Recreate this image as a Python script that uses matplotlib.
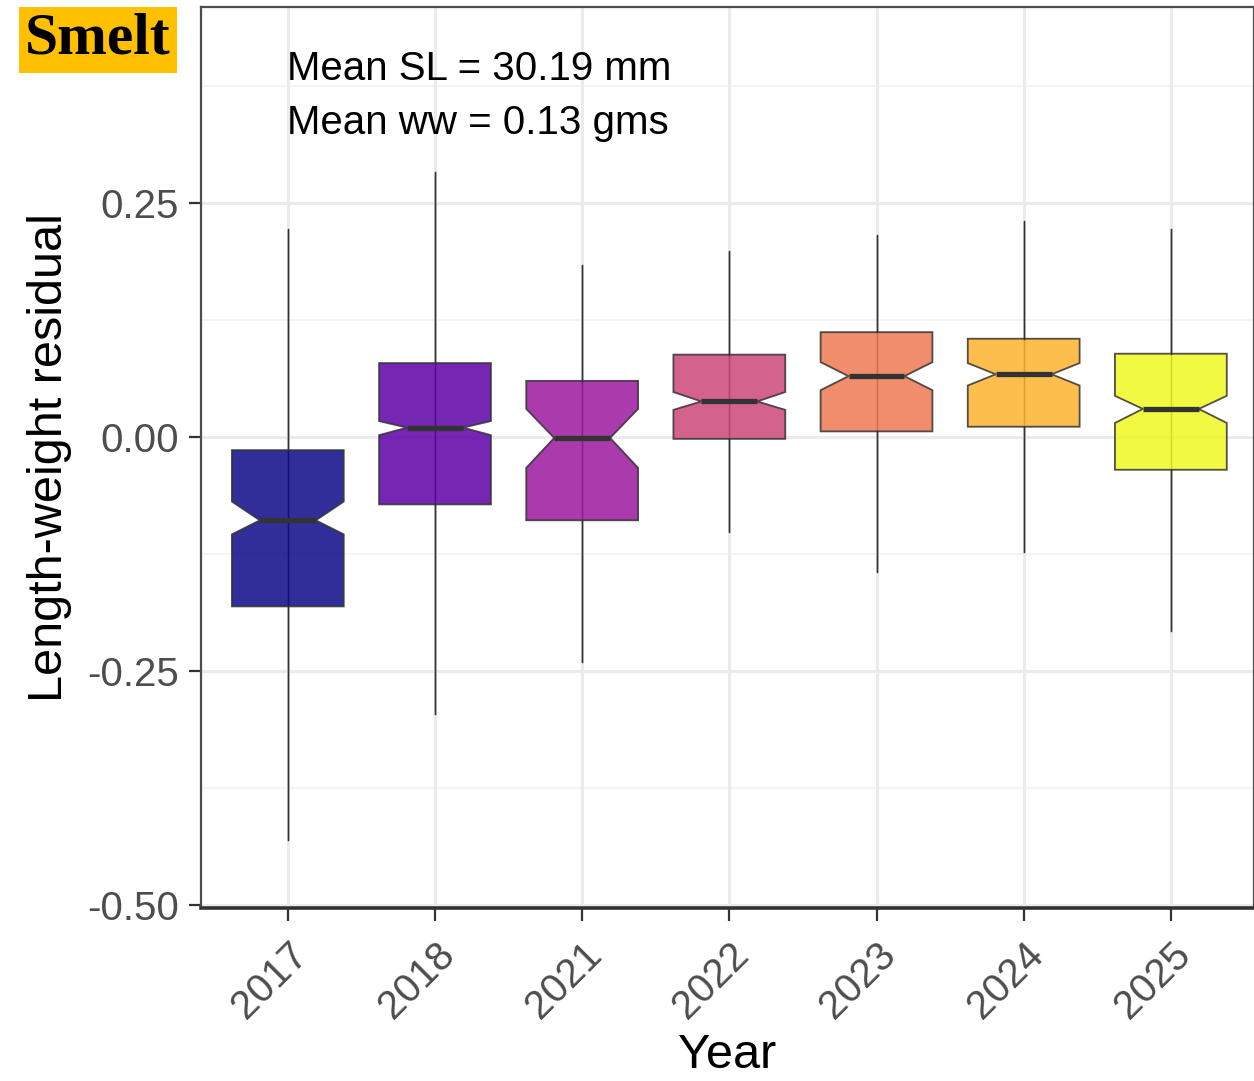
import numpy as np
import matplotlib
matplotlib.use("Agg")
import matplotlib.pyplot as plt

plt.rcParams['font.family'] = ['Liberation Sans', 'DejaVu Sans']

# boxplot summaries per year (length-weight residuals)
years = ["2017", "2018", "2021", "2022", "2023", "2024", "2025"]
whisk_lo = [-0.431, -0.296, -0.240, -0.101, -0.144, -0.123, -0.207]
q1 = [-0.181, -0.072, -0.089, -0.002, 0.006, 0.011, -0.035]
ci_lo = [-0.104, 0.002, -0.033, 0.029, 0.050, 0.055, 0.015]
medians = [-0.089, 0.010, -0.001, 0.038, 0.065, 0.067, 0.030]
ci_hi = [-0.069, 0.017, 0.030, 0.048, 0.080, 0.079, 0.044]
q3 = [-0.014, 0.079, 0.060, 0.088, 0.112, 0.105, 0.089]
whisk_hi = [0.222, 0.283, 0.184, 0.199, 0.216, 0.231, 0.222]

fills = ["#0D0887", "#5D01A6", "#9C179E", "#CC4678", "#ED7953", "#FDB32F", "#F0F921"]

mean_sl = 30.19
mean_ww = 0.13

stats = []
for i in range(len(years)):
    stats.append(dict(med=medians[i], q1=q1[i], q3=q3[i],
                      whislo=whisk_lo[i], whishi=whisk_hi[i],
                      cilo=ci_lo[i], cihi=ci_hi[i], fliers=[], label=years[i]))

fig = plt.figure(figsize=(12.54, 10.81), dpi=100)
ax = fig.add_axes([201/1254, 1 - 908/1081, 1 - 201/1254, (908 - 7)/1081])

pos = np.arange(len(years))

# grid
ax.set_axisbelow(True)
for y in [-0.375, -0.125, 0.125, 0.375]:
    ax.axhline(y, color="#F2F2F2", lw=1.2, zorder=0)
for y in [-0.5, -0.25, 0.0, 0.25]:
    ax.axhline(y, color="#EBEBEB", lw=2.2, zorder=0)
for x in pos:
    ax.axvline(x, color="#EBEBEB", lw=2.2, zorder=0)

# whisker line running through the box
ax.vlines(pos, whisk_lo, whisk_hi, color="#333333", lw=1.0, zorder=1)

bp = ax.bxp(stats, positions=pos, widths=0.76, shownotches=True, patch_artist=True,
            showcaps=False, showfliers=False,
            boxprops=dict(edgecolor="#333333", linewidth=1.3),
            whiskerprops=dict(color="#333333", linewidth=1.0),
            medianprops=dict(color="#333333", linewidth=3.8, solid_capstyle="butt"),
            zorder=2)
for patch, c in zip(bp['boxes'], fills):
    patch.set_facecolor(c)
    patch.set_alpha(0.85)
    patch.set_edgecolor("#333333")

ax.set_xlim(-0.59, 6.565)
ax.set_ylim(-0.5032, 0.4594)

ax.set_yticks([-0.5, -0.25, 0.0, 0.25])
ax.set_yticklabels(["-0.50", "-0.25", "0.00", "0.25"])
ax.set_xticks(pos)
ax.set_xticklabels(years, rotation=45, ha="right", rotation_mode="anchor")

ax.tick_params(axis="both", colors="#333333", labelcolor="#4D4D4D",
               labelsize=29, length=9, width=1.6)
ax.tick_params(axis="y", pad=7)
ax.tick_params(axis="x", pad=11)

for s in ["top", "left", "right"]:
    ax.spines[s].set_color("#4D4D4D")
    ax.spines[s].set_linewidth(1.6)
ax.spines["bottom"].set_color("#333333")
ax.spines["bottom"].set_linewidth(2.6)

ax.set_ylabel("Length-weight residual", fontsize=35, labelpad=11)
ax.set_xlabel("Year", fontsize=35, labelpad=5)

ax.text(-0.005, 0.393, "Mean SL = %.2f mm" % mean_sl, fontsize=29,
        ha="left", va="center", color="black")
ax.text(-0.005, 0.335, "Mean ww = %.2f gms" % mean_ww, fontsize=29,
        ha="left", va="center", color="black")

fig.text(25/1254, 1 - 40/1081, "Smelt", fontsize=43, fontweight="bold",
         family="Liberation Serif", ha="left", va="center",
         bbox=dict(boxstyle="square,pad=0.1", facecolor="#FFC000", edgecolor="none"))

fig.savefig("out.png", dpi=100)
